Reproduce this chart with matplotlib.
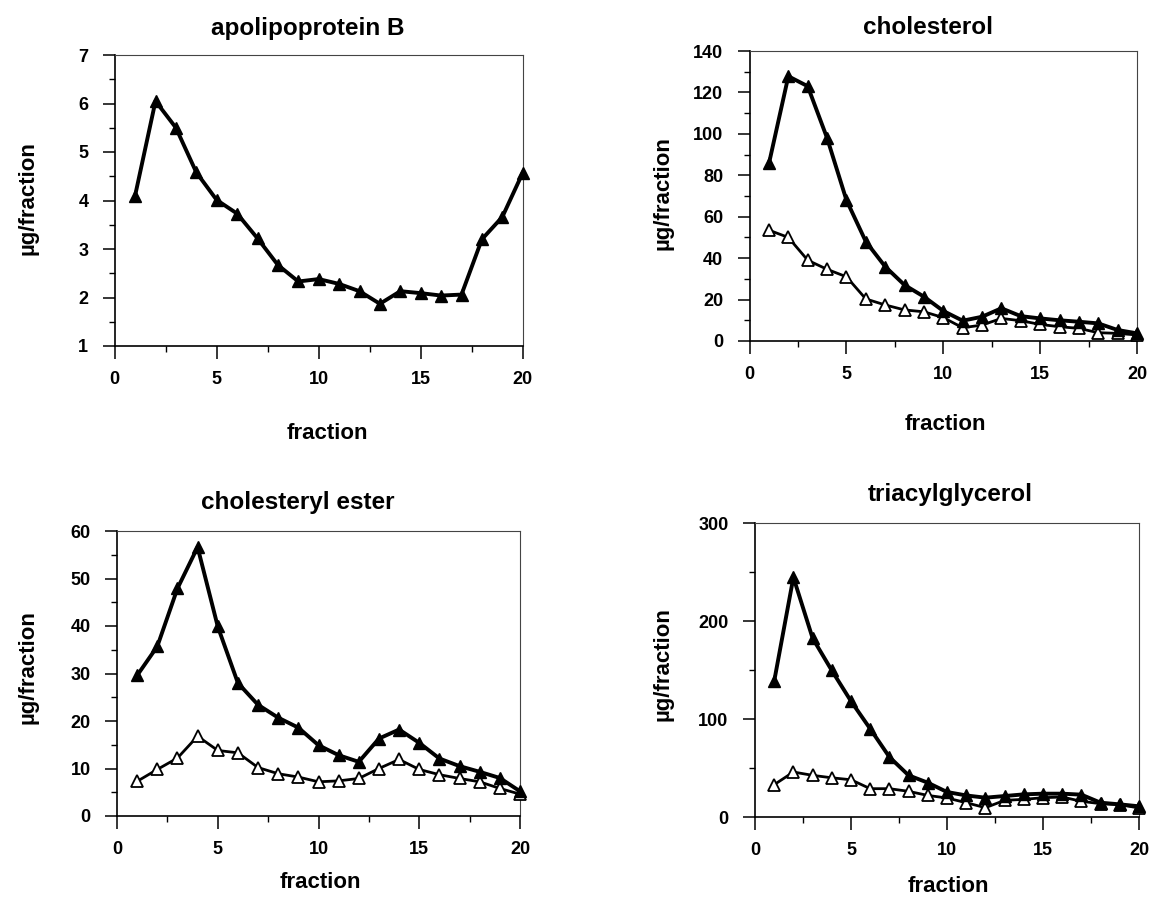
import matplotlib
matplotlib.use("Agg")
import matplotlib.pyplot as plt
from matplotlib.ticker import MultipleLocator

fractions = list(range(1, 21))

apob_filled = [4.10, 6.05, 5.50, 4.58, 4.01, 3.73, 3.22, 2.67, 2.33, 2.38,
               2.28, 2.13, 1.87, 2.13, 2.09, 2.04, 2.06, 3.20, 3.66, 4.57]

chol_filled = [85.7, 127.8, 123.0, 98.0, 68.0, 48.0, 35.9, 27.0, 21.4, 14.5,
               9.8, 11.7, 15.8, 12.0, 10.9, 10.0, 9.3, 8.5, 5.3, 3.7]
chol_open = [53.5, 50.0, 39.0, 34.6, 31.0, 20.3, 17.4, 15.0, 14.1, 11.3,
             6.4, 7.7, 10.9, 9.8, 8.0, 6.9, 6.1, 4.0, 3.7, 2.9]

ce_filled = [29.6, 35.7, 47.9, 56.6, 39.9, 28.0, 23.4, 20.7, 18.6, 14.9,
             12.8, 11.4, 16.3, 18.2, 15.4, 12.1, 10.5, 9.3, 8.0, 5.2]
ce_open = [7.3, 9.8, 12.2, 16.8, 13.8, 13.3, 10.2, 8.9, 8.2, 7.2,
           7.4, 7.9, 10.0, 11.9, 9.8, 8.7, 7.9, 7.2, 5.8, 4.6]

tag_filled = [138.6, 244.6, 182.5, 149.5, 118.2, 90.0, 61.2, 42.5, 35.0, 25.5,
              22.0, 19.7, 21.4, 23.1, 23.8, 23.8, 22.8, 14.6, 12.9, 10.9]
tag_open = [33.0, 45.9, 42.5, 40.0, 38.0, 28.9, 28.9, 26.2, 22.0, 19.4,
            14.6, 9.5, 17.0, 18.0, 19.7, 20.4, 16.0, 13.6, 12.6, 9.2]

titles = ["apolipoprotein B", "cholesterol", "cholesteryl ester", "triacylglycerol"]
ylabel = "µg/fraction"
xlabel = "fraction"

W, H = 1149, 914
fig = plt.figure(figsize=(W / 100, H / 100), dpi=100)

fam = ["Liberation Sans", "DejaVu Sans"]


def px_axes(x0, x1, ytop, ybot):
    return fig.add_axes([x0 / W, 1 - ybot / H, (x1 - x0) / W, (ybot - ytop) / H])


panels = [
    dict(box=(114.7, 522.7, 55, 346), ylim=(1, 7), maj=1, mnr=0.5,
         tpos=(308, 28), xlpos=(327, 434), ylpos=(28, 198),
         filled=apob_filled, open=None),
    dict(box=(749.6, 1137, 51, 341), ylim=(0, 140), maj=20, mnr=10,
         tpos=(928, 27), xlpos=(945, 425), ylpos=(663, 193),
         filled=chol_filled, open=chol_open),
    dict(box=(117, 520, 531, 816), ylim=(0, 60), maj=10, mnr=5,
         tpos=(298, 503), xlpos=(320, 882), ylpos=(28, 667),
         filled=ce_filled, open=ce_open),
    dict(box=(755, 1139, 523, 817), ylim=(0, 300), maj=100, mnr=50,
         tpos=(950, 494), xlpos=(948, 886), ylpos=(663, 664),
         filled=tag_filled, open=tag_open),
]

for p, title in zip(panels, titles):
    ax = px_axes(*p["box"])
    if p["open"] is not None:
        ax.plot(fractions, p["open"], color="black", lw=2.0, marker="^",
                markersize=8, markerfacecolor="white", markeredgecolor="black",
                markeredgewidth=1.3, solid_joinstyle="round", zorder=3,
                clip_on=False)
    ax.plot(fractions, p["filled"], color="black", lw=2.8, marker="^",
            markersize=8, markerfacecolor="black", markeredgecolor="black",
            solid_joinstyle="round", zorder=4, clip_on=False)
    ax.set_xlim(0, 20)
    ax.set_ylim(*p["ylim"])
    ax.xaxis.set_major_locator(MultipleLocator(5))
    ax.xaxis.set_minor_locator(MultipleLocator(2.5))
    ax.yaxis.set_major_locator(MultipleLocator(p["maj"]))
    ax.yaxis.set_minor_locator(MultipleLocator(p["mnr"]))
    ax.tick_params(which="major", direction="out", length=9, width=1.1,
                   pad=9, labelsize=13)
    ax.tick_params(which="minor", direction="out", length=4, width=1.0)
    ax.tick_params(axis="y", which="major", pad=10)
    for lab in ax.get_xticklabels() + ax.get_yticklabels():
        lab.set_fontfamily(fam)
        lab.set_fontweight("bold")
    for s in ("left", "bottom"):
        ax.spines[s].set_linewidth(1.2)
    for s in ("top", "right"):
        ax.spines[s].set_linewidth(0.8)
        ax.spines[s].set_color("#444444")
    ax.patch.set_alpha(0)

    fig.text(p["tpos"][0] / W, 1 - p["tpos"][1] / H, title, ha="center",
             va="center", fontsize=17.5, fontweight="bold", family=fam)
    fig.text(p["xlpos"][0] / W, 1 - p["xlpos"][1] / H, xlabel, ha="center",
             va="center", fontsize=16, fontweight="bold", family=fam)
    fig.text(p["ylpos"][0] / W, 1 - p["ylpos"][1] / H, ylabel, ha="center",
             va="center", rotation=90, fontsize=16, fontweight="bold",
             family=fam)

fig.savefig("out.png", dpi=100)
